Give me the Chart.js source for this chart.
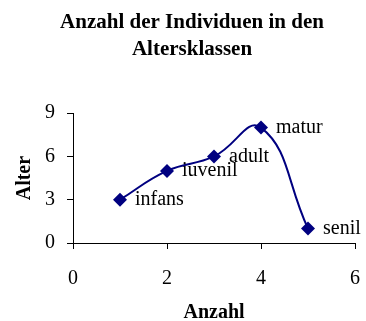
<!DOCTYPE html>
<html>
<head>
<meta charset="utf-8">
<script src="https://cdn.jsdelivr.net/npm/chart.js@4/dist/chart.umd.min.js"></script>
<style>
  html, body { margin: 0; padding: 0; background: #fff; }
  #wrap { width: 366px; height: 321px; }
</style>
</head>
<body>
<div id="wrap"><canvas id="myChart" width="366" height="321"></canvas></div>
<script>
// Anzahl (x) und Alter (y) je Altersklasse
const klassen = ['infans', 'iuvenil', 'adult', 'matur', 'senil'];
const anzahl = [1, 2, 3, 4, 5];
const alter = [3, 5, 6, 8, 1];

const xTicks = [0, 2, 4, 6];
const yTicks = [0, 3, 6, 9];

const serif = "'Liberation Serif', 'Times New Roman', serif";
const navy = '#000080';

const ctx = document.getElementById('myChart').getContext('2d');

// writes the class name to the right of each point
const pointNames = {
    id: 'pointNames',
    afterDatasetsDraw(chart) {
        const c = chart.ctx;
        const meta = chart.getDatasetMeta(0);
        c.save();
        c.font = '20px ' + serif;
        c.fillStyle = '#000';
        c.textAlign = 'left';
        c.textBaseline = 'middle';
        meta.data.forEach((pt, i) => {
            c.fillText(klassen[i], pt.x + 15, pt.y);
        });
        c.restore();
    }
};

// plot box: x from 73 to 355, y from 112 to 243
const pad = { left: 29, right: 11, top: 0, bottom: 0 };

new Chart(ctx, {
    type: 'scatter',
    data: {
        datasets: [{
            data: anzahl.map((x, i) => ({ x: x, y: alter[i] })),
            showLine: true,
            tension: 0.45,
            borderColor: navy,
            borderWidth: 2,
            backgroundColor: navy,
            pointStyle: 'rectRot',
            pointRadius: 7,
            pointHoverRadius: 7,
            pointBorderWidth: 0
        }]
    },
    options: {
        responsive: false,
        animation: false,
        layout: { padding: pad },
        plugins: {
            legend: { display: false },
            tooltip: { enabled: false },
            title: {
                display: true,
                text: ['Anzahl der Individuen in den', 'Altersklassen'],
                color: '#000',
                font: { family: serif, size: 21, weight: 'bold', lineHeight: 1.29 },
                padding: { top: 9, bottom: 50 }
            }
        },
        scales: {
            x: {
                type: 'linear',
                min: 0,
                max: 6,
                afterBuildTicks: s => { s.ticks = xTicks.map(v => ({ value: v })); },
                afterFit: s => {
                    s.height = 321 - 243 - pad.bottom;
                    s.paddingLeft = 0;
                    s.paddingRight = 0;
                },
                grid: { drawOnChartArea: false, drawTicks: true, tickLength: 6, color: '#000' },
                border: { display: true, color: '#000', width: 1 },
                ticks: { color: '#000', font: { family: serif, size: 20 }, padding: 18 },
                title: {
                    display: true,
                    text: 'Anzahl',
                    color: '#000',
                    font: { family: serif, size: 20, weight: 'bold', lineHeight: 1 },
                    padding: { top: 8, bottom: -2 }
                }
            },
            y: {
                type: 'linear',
                min: 0,
                max: 9,
                afterBuildTicks: s => { s.ticks = yTicks.map(v => ({ value: v })); },
                afterFit: s => { s.width = 73 - pad.left; },
                grid: { drawOnChartArea: false, drawTicks: true, tickLength: 6, color: '#000' },
                border: { display: true, color: '#000', width: 1 },
                ticks: { color: '#000', font: { family: serif, size: 20 }, padding: 12 },
                title: {
                    display: true,
                    text: 'Alter',
                    color: '#000',
                    font: { family: serif, size: 20, weight: 'bold', lineHeight: 1 },
                    padding: { top: -14, bottom: 0 }
                }
            }
        }
    },
    plugins: [pointNames]
});
</script>
</body>
</html>
